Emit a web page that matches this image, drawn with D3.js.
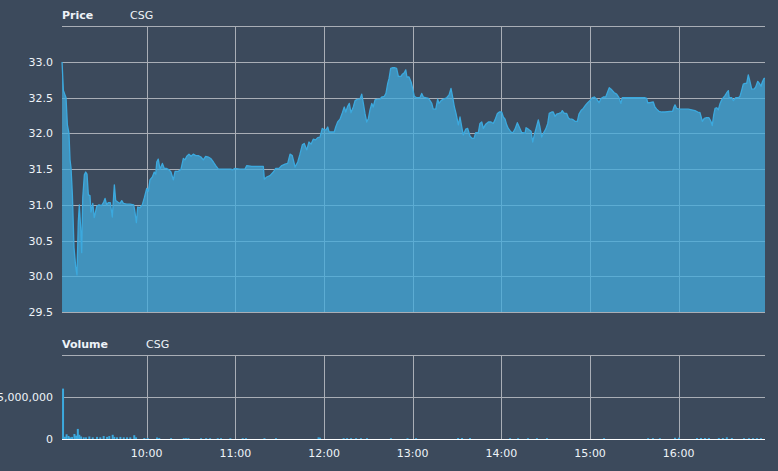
<!DOCTYPE html>
<html>
<head>
<meta charset="utf-8">
<script src="https://cdn.jsdelivr.net/npm/d3@7"></script>
<style>
  html, body { margin: 0; padding: 0; background: #3c4a5c; }
  svg { display: block; }
  text { font-family: "DejaVu Sans", Verdana, sans-serif; font-size: 11px; fill: #eef3f8; }
</style>
</head>
<body>
<svg id="chart" width="778" height="471"></svg>
<script>
// ---- DATA (minutes after 09:00) ----
const symbol = "CSG";
const priceMinutes = [2.7,3.6,4.7,5.4,6.3,7.4,8.1,8.8,9.7,10.8,12.0,12.8,13.7,14.4,15.3,16.0,16.7,17.8,18.7,19.6,20.5,21.6,22.3,23.5,24.5,26.2,27.7,29.5,30.9,31.8,32.9,34.0,35.4,36.7,38.1,39.0,40.4,41.9,43.1,44.2,46.5,48.7,51.2,52.1,53.0,53.9,55.5,57.0,58.4,
60.0,61.1,62.2,63.8,65.1,66.1,66.8,67.8,69.0,70.6,71.9,73.5,75.1,76.4,78.0,79.2,81.4,83.2,84.8,85.9,87.1,88.6,90.0,91.5,93.2,94.9,96.7,98.3,99.9,101.7,103.3,105.1,106.7,108.5,110.8,114.1,117.0,117.9,119.8,123.1,126.5,127.7,131.1,135.5,138.9,139.6,141.2,143.4,145.7,147.3,149.5,151.4,153.6,155.4,157.0,158.5,160.4,162.2,163.7,165.3,166.6,168.3,169.8,171.2,172.7,174.3,175.7,177.3,178.8,
180.2,181.3,182.5,183.4,185.2,186.9,187.9,189.2,190.8,192.4,193.7,194.7,196.0,197.1,198.2,199.8,201.0,202.8,204.3,205.5,206.6,207.7,208.9,210.0,211.1,212.3,213.3,214.5,216.3,217.9,219.0,220.8,221.9,223.1,224.0,225.1,226.2,228.0,229.1,230.3,232.1,233.0,234.3,235.3,236.1,237.5,238.9,239.7,241.1,242.7,244.9,246.1,247.2,248.8,250.6,251.7,252.9,253.9,255.6,256.9,257.8,259.2,260.7,263.0,264.6,265.9,267.1,268.2,269.3,270.9,272.0,273.2,274.2,275.9,277.2,278.8,280.3,281.5,282.6,284.4,285.5,286.7,287.8,289.4,291.2,293.0,294.5,295.7,297.3,298.6,
300.2,301.3,302.5,303.6,304.7,305.8,307.0,308.1,309.2,310.8,312.1,313.8,314.9,316.0,316.7,318.2,320.1,321.2,322.3,323.9,325.0,326.1,327.3,328.4,330.0,331.4,332.4,334.1,335.1,336.3,337.4,339.0,340.4,341.2,342.6,344.2,345.3,346.4,347.6,348.7,349.8,351.4,352.5,353.9,355.4,357.1,358.4,360.0,361.5,362.9,364.5,366.1,367.4,369.0,370.6,371.9,373.0,374.7,376.4,378.0,379.6,380.9,381.8,383.6,387.0,390.4,393.8,397.2,398.3,399.0,400.5,402.8,403.9,405.1,406.6,408.5,410.7,414.1,415.9,416.8,417.5,418.6,420.2,423.1,426.5,428.8,431.0,432.9,434.4,436.0,437.3,438.9,440.5,441.8,442.7,443.7,444.6,445.7,446.8,448.0,449.1,450.2,451.3,452.5,453.6,454.2,455.9,457.0,458.6,460.4,461.5,462.7,463.7,464.9,466.0,467.1,468.3,469.4,471.0,472.1,473.5,474.6,475.7,476.6,477.7,478.4];
const priceValues = [33.0,32.6,32.54,32.5,32.12,32.0,31.63,31.51,31.14,30.4,30.12,30.02,30.76,31.0,30.68,30.33,31.1,31.42,31.46,31.43,31.14,31.13,30.9,31.02,30.82,30.98,31.0,30.99,31.04,31.09,31.0,31.03,31.03,30.83,31.28,31.06,31.04,31.02,31.06,31.02,31.01,31.01,31.0,30.89,30.75,30.97,30.96,31.0,31.1,
31.23,31.19,31.35,31.39,31.46,31.43,31.6,31.64,31.5,31.58,31.51,31.51,31.49,31.46,31.35,31.47,31.47,31.5,31.65,31.63,31.68,31.71,31.68,31.71,31.69,31.69,31.67,31.63,31.68,31.67,31.65,31.6,31.55,31.5,31.5,31.5,31.5,31.49,31.51,31.5,31.5,31.55,31.54,31.54,31.54,31.36,31.39,31.41,31.46,31.51,31.51,31.55,31.57,31.58,31.71,31.69,31.53,31.6,31.71,31.84,31.86,31.77,31.88,31.85,31.92,31.91,31.94,31.95,32.07,
32.05,32.05,32.09,32.02,32.02,32.02,32.09,32.16,32.2,32.29,32.37,32.3,32.38,32.42,32.29,32.37,32.46,32.48,32.48,32.55,32.42,32.28,32.16,32.21,32.33,32.42,32.37,32.47,32.48,32.48,32.51,32.52,32.56,32.7,32.77,32.91,32.92,32.92,32.91,32.8,32.8,32.83,32.85,32.89,32.79,32.79,32.72,32.65,32.52,32.5,32.5,32.56,32.51,32.5,32.49,32.46,32.42,32.34,32.34,32.48,32.42,32.46,32.48,32.5,32.54,32.63,32.5,32.37,32.28,32.12,32.23,32.09,31.98,32.06,32.07,31.96,31.93,31.93,32.01,32.01,32.14,32.16,32.07,32.13,32.16,32.16,32.14,32.19,32.28,32.3,
32.3,32.23,32.2,32.12,32.07,32.04,32.01,32.02,32.06,32.15,32.09,32.01,32.01,32.0,32.08,32.06,32.03,31.88,31.98,32.1,32.19,32.09,31.95,32.0,32.06,32.14,32.28,32.3,32.3,32.24,32.27,32.28,32.29,32.32,32.28,32.28,32.22,32.2,32.2,32.19,32.17,32.17,32.27,32.32,32.35,32.4,32.43,32.46,32.5,32.51,32.48,32.43,32.49,32.51,32.51,32.58,32.64,32.61,32.57,32.55,32.5,32.42,32.5,32.5,32.5,32.5,32.5,32.5,32.49,32.43,32.43,32.44,32.37,32.34,32.31,32.3,32.3,32.31,32.31,32.37,32.4,32.35,32.34,32.34,32.34,32.33,32.32,32.3,32.29,32.17,32.21,32.22,32.22,32.17,32.11,32.26,32.35,32.36,32.33,32.42,32.47,32.5,32.53,32.57,32.6,32.5,32.5,32.46,32.5,32.5,32.52,32.61,32.69,32.7,32.7,32.82,32.72,32.62,32.62,32.65,32.73,32.7,32.66,32.72,32.77,32.77];

const volumeMinutes = [2.7,4.0,5.1,6.4,7.4,8.8,10.4,11.5,12.7,13.7,14.9,16.7,18.2,20.5,22.8,25.7,27.9,30.2,32.5,34.0,36.3,37.4,39.2,41.5,43.8,46.0,48.2,50.9,52.1,57.7,60.0,66.3,67.8,75.8,84.4,85.9,87.5,96.1,99.5,102.2,107.4,109.6,115.9,124.3,126.5,139.0,146.8,175.6,176.6,192.6,194.9,197.6,201.0,204.3,208.4,224.6,235.8,241.6,270.0,272.7,278.1,305.2,310.6,317.3,323.4,330.2,368.8,398.6,401.9,406.6,416.8,419.5,431.7,434.4,437.1,439.8,446.5,449.2,451.9,455.3,463.5,466.9,469.6,472.3,475.0];
const volumeValues = [6000000,270000,560000,360000,200000,250000,600000,400000,1200000,500000,300000,200000,200000,300000,200000,250000,200000,350000,250000,350000,500000,250000,200000,250000,200000,200000,200000,450000,200000,120000,120000,180000,120000,100000,100000,100000,100000,100000,100000,100000,100000,100000,100000,100000,100000,100000,100000,200000,150000,100000,100000,100000,100000,100000,100000,100000,100000,100000,120000,120000,120000,100000,100000,100000,100000,100000,100000,100000,100000,100000,150000,150000,120000,120000,120000,120000,120000,120000,200000,120000,100000,100000,100000,100000,100000];

const hourTicks = ["10:00","11:00","12:00","13:00","14:00","15:00","16:00"];
const priceTicks = [29.5,30.0,30.5,31.0,31.5,32.0,32.5,33.0,33.5];
const priceLabelTicks = [29.5,30.0,30.5,31.0,31.5,32.0,32.5,33.0];
const volumeTicks = [0,5000000,10000000];
const volumeLabelTicks = [0,5000000];
const domainStartMin = 2.67, domainEndMin = 478.4;

// ---- helpers ----
const base = new Date(2020,0,1,9,0,0);
const toDate = m => new Date(base.getTime() + m*60000);
const parseHM = s => { const [h,mm] = s.split(":").map(Number); return new Date(2020,0,1,h,mm,0); };

const price = priceMinutes.map((m,i) => ({t: toDate(m), v: priceValues[i]}));
const volume = volumeMinutes.map((m,i) => ({t: toDate(m), v: volumeValues[i]}));

const svg = d3.select("#chart");
const L = 62, R = 765;
const x = d3.scaleTime().domain([toDate(domainStartMin), toDate(domainEndMin)]).range([L, R]);
const yP = d3.scaleLinear().domain([29.5, 33.5]).range([312, 26.3]);
const yV = d3.scaleLinear().domain([0, 10000000]).range([439, 355]);

const gridColor = "#a9aeb6";
const lineColor = "#3ca9de";

// Titles
svg.append("text").attr("x", L).attr("y", 19).style("font-weight", "bold").text("Price");
svg.append("text").attr("x", 130).attr("y", 19).text(symbol);
svg.append("text").attr("x", L).attr("y", 348).style("font-weight", "bold").text("Volume");
svg.append("text").attr("x", 146).attr("y", 348).text(symbol);

// ---- Price panel grid ----
const gP = svg.append("g");
gP.selectAll("line.h").data(priceTicks).join("line")
  .attr("x1", L).attr("x2", R)
  .attr("y1", d => Math.round(yP(d)) + 0.5).attr("y2", d => Math.round(yP(d)) + 0.5)
  .attr("stroke", gridColor).attr("stroke-width", 1);
gP.selectAll("line.v").data(hourTicks).join("line")
  .attr("x1", d => Math.round(x(parseHM(d))) + 0.5).attr("x2", d => Math.round(x(parseHM(d))) + 0.5)
  .attr("y1", yP(33.5)).attr("y2", yP(29.5))
  .attr("stroke", gridColor).attr("stroke-width", 1);

// area + line
const area = d3.area().x(d => x(d.t)).y0(yP(29.5)).y1(d => yP(d.v));
const line = d3.line().x(d => x(d.t)).y(d => yP(d.v));
svg.append("path").datum(price).attr("d", area)
  .attr("fill", "#43abdc").attr("fill-opacity", 0.75);
svg.append("path").datum(price).attr("d", line)
  .attr("fill", "none").attr("stroke", lineColor).attr("stroke-width", 1.3).attr("stroke-linejoin", "round");
// bottom line
svg.append("line").attr("x1", L).attr("x2", R)
  .attr("y1", Math.round(yP(29.5)) + 0.5).attr("y2", Math.round(yP(29.5)) + 0.5)
  .attr("stroke", gridColor);

// price labels
svg.append("g").selectAll("text").data(priceLabelTicks).join("text")
  .attr("x", 53).attr("y", d => yP(d) + 4).attr("text-anchor", "end")
  .text(d => d3.format(".1f")(d));

// ---- Volume panel ----
const gV = svg.append("g");
gV.selectAll("line.h").data(volumeTicks.filter(d => d > 0)).join("line")
  .attr("x1", L).attr("x2", R)
  .attr("y1", d => Math.round(yV(d)) + 0.5).attr("y2", d => Math.round(yV(d)) + 0.5)
  .attr("stroke", gridColor);
gV.selectAll("line.v").data(hourTicks).join("line")
  .attr("x1", d => Math.round(x(parseHM(d))) + 0.5).attr("x2", d => Math.round(x(parseHM(d))) + 0.5)
  .attr("y1", yV(10000000)).attr("y2", yV(0))
  .attr("stroke", gridColor);

svg.append("g").selectAll("rect").data(volume).join("rect")
  .attr("x", d => x(d.t)).attr("width", 2)
  .attr("y", d => yV(d.v)).attr("height", d => yV(0) - yV(d.v))
  .attr("fill", lineColor);

svg.append("line").attr("x1", L).attr("x2", R)
  .attr("y1", Math.round(yV(0)) + 0.5).attr("y2", Math.round(yV(0)) + 0.5)
  .attr("stroke", "#ffffff");

svg.append("g").selectAll("text").data(volumeLabelTicks).join("text")
  .attr("x", 53).attr("y", d => yV(d) + 4).attr("text-anchor", "end")
  .text(d => d3.format(",")(d));

// x labels
svg.append("g").selectAll("text").data(hourTicks).join("text")
  .attr("x", d => x(parseHM(d))).attr("y", 457).attr("text-anchor", "middle")
  .text(d => d);
</script>
</body>
</html>
